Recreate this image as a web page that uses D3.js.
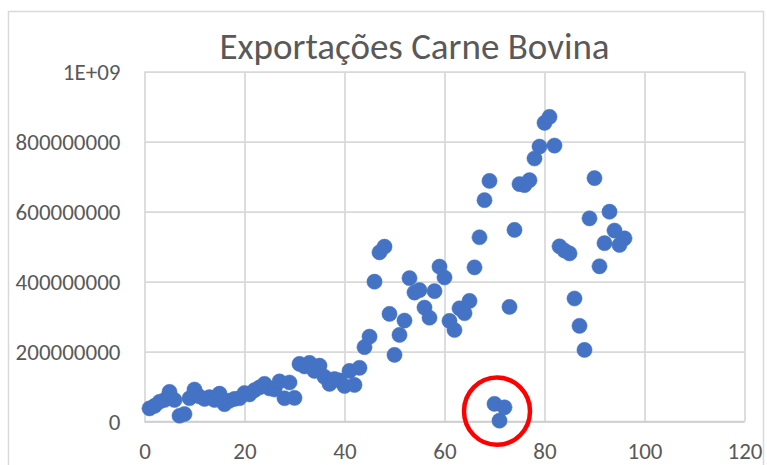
<!DOCTYPE html>
<html>
<head>
<meta charset="utf-8">
<script src="https://cdn.jsdelivr.net/npm/d3@7"></script>
<style>
    body { margin: 0; background: #fff; }
    text { font-family: Calibri, Carlito, Lato, sans-serif; fill: #595959; }
</style>
</head>
<body>
<div id="chart"></div>
<script>
const title = "Exportações Carne Bovina";

// x = month index, value in millions
const months = [
    1, 2, 3, 4, 5, 6, 7, 8, 9, 10, 11, 12, 13, 14, 15, 16, 17, 18, 19, 20,
    21, 22, 23, 24, 25, 26, 27, 28, 29, 30, 31, 32, 33, 34, 35, 36, 37, 38, 39, 40,
    41, 42, 43, 44, 45, 46, 47, 48, 49, 50, 51, 52, 53, 54, 55, 56, 57, 58, 59, 60,
    61, 62, 63, 64, 65, 66, 67, 68, 69, 70, 71, 72, 73, 74, 75, 76, 77, 78, 79, 80,
    81, 82, 83, 84, 85, 86, 87, 88, 89, 90, 91, 92, 93, 94, 95, 96
];
const exportsMillions = [
    38, 45, 57, 62, 85, 62, 17, 22, 67, 92, 72, 65, 70, 62, 80, 50, 60, 65, 67, 82,
    78, 90, 98, 108, 95, 92, 115, 67, 112, 68, 165, 158, 168, 145, 160, 128, 108, 122, 118, 102,
    145, 105, 154, 213, 243, 400, 484, 500, 308, 191, 248, 289, 410, 369, 376, 326, 297, 373, 443, 412,
    288, 262, 324, 310, 345, 441, 527, 633, 688, 51, 3, 41, 328, 548, 679, 676, 690, 752, 786, 854,
    871, 789, 501, 489, 481, 352, 274, 205, 581, 696, 444, 510, 600, 546, 505, 524
];

const xTicks = [0, 20, 40, 60, 80, 100, 120];
const yTicks = [0, 200000000, 400000000, 600000000, 800000000, 1000000000];
const yTickLabels = ["0", "200000000", "400000000", "600000000", "800000000", "1E+09"];

// highlighted outliers (red ring)
const highlight = { x: 70.5, y: 30000000, rx: 6.6, ry: 96000000 };

const width = 767;
const height = 465;
const plot = { left: 144.5, right: 744.5, top: 71.7, bottom: 421.7 };

const svg = d3.select("#chart")
    .append("svg")
    .attr("width", width)
    .attr("height", height);

svg.append("rect")
    .attr("x", 8.5)
    .attr("y", 11.5)
    .attr("width", 755)
    .attr("height", 470)
    .attr("fill", "#fff")
    .attr("stroke", "#d9d9d9")
    .attr("stroke-width", 1.5);

const x = d3.scaleLinear().domain([0, 120]).range([plot.left, plot.right]);
const y = d3.scaleLinear().domain([0, 1000000000]).range([plot.bottom, plot.top]);

const yAxis = svg.append("g")
    .attr("transform", `translate(${plot.left},0)`)
    .call(d3.axisLeft(y)
        .tickValues(yTicks)
        .tickSize(-(plot.right - plot.left))
        .tickPadding(24)
        .tickFormat((d, i) => yTickLabels[i]));

const xAxis = svg.append("g")
    .attr("transform", `translate(0,${plot.bottom})`)
    .call(d3.axisBottom(x)
        .tickValues(xTicks)
        .tickSize(-(plot.bottom - plot.top))
        .tickPadding(21)
        .tickFormat(d3.format("d")));

[yAxis, xAxis].forEach(axis => {
    axis.select(".domain").remove();
    axis.selectAll(".tick line")
        .attr("stroke", "#d9d9d9")
        .attr("stroke-width", 1.75);
    axis.selectAll(".tick text")
        .attr("font-size", 23)
        .attr("font-family", "Calibri, Carlito, Lato, sans-serif")
        .attr("fill", "#595959");
});

svg.append("line")
    .attr("x1", plot.left)
    .attr("x2", plot.right)
    .attr("y1", y(0))
    .attr("y2", y(0))
    .attr("stroke", "#cfcfcf")
    .attr("stroke-width", 1.75);

svg.append("text")
    .attr("x", 414.5)
    .attr("y", 59)
    .attr("text-anchor", "middle")
    .attr("font-size", 37)
    .text(title);

const points = months.map((m, i) => ({ x: m, value: exportsMillions[i] * 1000000 }));

svg.append("g")
    .selectAll("circle")
    .data(points)
    .join("circle")
    .attr("cx", d => x(d.x))
    .attr("cy", d => y(d.value))
    .attr("r", 7.6)
    .attr("fill", "#4472c4")
    .attr("stroke", "#4472c4")
    .attr("stroke-width", 0.5);

svg.append("ellipse")
    .attr("cx", x(highlight.x))
    .attr("cy", y(highlight.y))
    .attr("rx", x(highlight.rx) - x(0))
    .attr("ry", y(0) - y(highlight.ry))
    .attr("fill", "none")
    .attr("stroke", "#ff0000")
    .attr("stroke-width", 4.5);
</script>
</body>
</html>
